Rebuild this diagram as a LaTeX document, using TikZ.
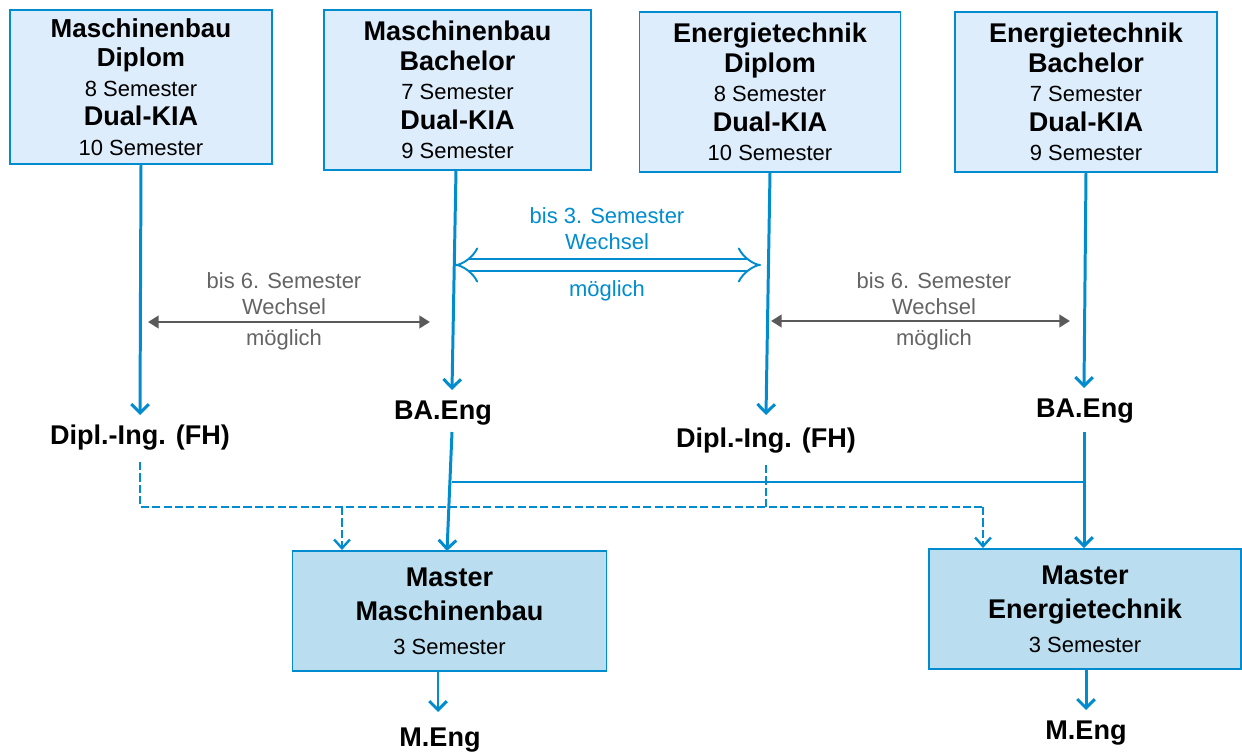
\documentclass[tikz,border=0pt]{standalone}
\usepackage{fontspec}
\setmainfont{Liberation Sans}
\usetikzlibrary{arrows.meta}
\usetikzlibrary{calc}

\definecolor{hsblau}{RGB}{0,140,206}
\definecolor{boxfill}{RGB}{222,237,251}
\definecolor{masterfill}{RGB}{186,222,240}
\definecolor{pfeilgrau}{RGB}{90,90,90}
\definecolor{textgrau}{RGB}{100,100,100}

\newcommand{\fett}[1]{{\fontsize{15.4}{16.8}\selectfont\bfseries #1}}
\newcommand{\fettklein}[1]{{\fontsize{14.8}{16.8}\selectfont\bfseries #1}}

\begin{document}
\begin{tikzpicture}[x=0.02cm,y=-0.02cm,
  studium/.style={draw=hsblau,line width=0.9pt,fill=boxfill,align=center,inner sep=0pt,
    font=\fontsize{12.5}{16.8}\selectfont},
  master/.style={draw=hsblau,line width=1.1pt,fill=masterfill,align=center,inner sep=0pt,
    minimum width=6.28cm,minimum height=2.4cm,font=\fontsize{12.5}{19.4}\selectfont},
  abschluss/.style={font=\fontsize{15.4}{18}\selectfont\bfseries,inner sep=0pt},
  hinweis/.style={align=center,font=\fontsize{12.5}{14.8}\selectfont,inner sep=0pt},
  fluss/.style={hsblau,line width=1.7pt,-{Straight Barb[length=5pt,width=10pt]}},
  strich/.style={hsblau,line width=1.35pt,dash pattern=on 4.6pt off 1.9pt},
  gestrichelt/.style={strich,-{Straight Barb[length=5pt,width=9pt,line width=1.35pt]}},
  wechsel/.style={pfeilgrau,line width=1.6pt,{Triangle[length=6pt,width=7pt]}-{Triangle[length=6pt,width=7pt]}}
]
\useasboundingbox (0,0) rectangle (1242,753);

% Studiengaenge oben
\node[studium,minimum width=5.24cm,minimum height=3.08cm] (mbdipl) at (141,87)
  {\fettklein{Maschinenbau}\\\fettklein{Diplom}\\8 Semester\\\fett{Dual-KIA}\\10 Semester};
\node[studium,minimum width=5.34cm,minimum height=3.2cm] (mbba) at (457.5,90)
  {\fett{Maschinenbau}\\\fett{Bachelor}\\7 Semester\\\fett{Dual-KIA}\\9 Semester};
\node[studium,minimum width=5.22cm,minimum height=3.2cm] (etdipl) at (770,92)
  {\fett{Energietechnik}\\\fett{Diplom}\\8 Semester\\\fett{Dual-KIA}\\10 Semester};
\node[studium,minimum width=5.24cm,minimum height=3.2cm] (etba) at (1086,92)
  {\fett{Energietechnik}\\\fett{Bachelor}\\7 Semester\\\fett{Dual-KIA}\\9 Semester};

% Abschluesse
\node[abschluss] (mbdiplab) at (140,438) {Dipl.-Ing. (FH)};
\node[abschluss] (mbbaab) at (443,413) {BA.Eng};
\node[abschluss] (etdiplab) at (766,441) {Dipl.-Ing. (FH)};
\node[abschluss] (etbaab) at (1085,411) {BA.Eng};

\coordinate (mbdiplend) at (140,415);
\coordinate (mbbastart) at (456,170);
\coordinate (mbbaend) at (452,390);
\coordinate (etdiplend) at (766,415);
\coordinate (etbaend) at (1084,388);

\draw[fluss] (mbdipl.south) -- (mbdiplend);
\draw[fluss] (mbbastart) -- (mbbaend);
\draw[fluss] (etdipl.south) -- (etdiplend);
\draw[fluss] (etba.south) -- (etbaend);

% Wechsel
\coordinate (wl1) at (148,322);
\coordinate (wr1) at (430,322);
\coordinate (wl2) at (771,321);
\coordinate (wr2) at (1070,321);
\coordinate (wl3) at (455,265);
\coordinate (wr3) at (761,265);
\draw[wechsel] (wl1) -- (wr1);
\draw[wechsel] (wl2) -- (wr2);
\draw[hsblau,line width=1.1pt,double=white,double distance=6pt,{Implies[scale=1.35]}-{Implies[scale=1.35]}] (wl3) -- (wr3);

\node[hinweis,text=textgrau] (wechsel1) at (284,294) {bis 6. Semester\\Wechsel};
\node[hinweis,text=textgrau] (moeglich1) at (284,340) {möglich};
\node[hinweis,text=textgrau] (wechsel2) at (934,294) {bis 6. Semester\\Wechsel};
\node[hinweis,text=textgrau] (moeglich2) at (934,340) {möglich};
\node[hinweis,text=hsblau] (wechsel3) at (607,229) {bis 3. Semester\\Wechsel};
\node[hinweis,text=hsblau] (moeglich3) at (607,291) {möglich};

% Master
\node[master] (mbmaster) at (449.5,611)
  {\fett{Master}\\\fett{Maschinenbau}\\3 Semester};
\node[master,minimum width=6.24cm] (etmaster) at (1085,609)
  {\fett{Master}\\\fett{Energietechnik}\\3 Semester};

\node[abschluss] (mbmeng) at (440,740) {M.Eng};
\node[abschluss] (etmeng) at (1086,733) {M.Eng};

% Wege zum Master
\coordinate (bastart1) at (452,432);
\coordinate (bastart2) at (1084,432);
\coordinate (knoten1) at (452,482);
\coordinate (knoten2) at (1084,482);
\coordinate (mbmasterein) at (447,551);
\draw[fluss] (bastart1) -- (mbmasterein);
\draw[fluss] (bastart2) -- (etmaster.north -| bastart2);
\draw[hsblau,line width=1.7pt] (knoten1) -- (knoten2);

\coordinate (diplstart1) at (140,462);
\coordinate (diplstart2) at (766,465);
\coordinate (diplecke1) at (140,507);
\coordinate (diplecke2) at (983,507);
\coordinate (diplabzw) at (342,507);
\draw[strich] (diplstart1) -- (diplecke1) -- (diplecke2);
\draw[strich] (diplstart2) -- (diplstart2 |- diplecke1);
\draw[gestrichelt] (diplecke2) -- (etmaster.north -| diplecke2);
\draw[gestrichelt] (diplabzw) -- (mbmaster.north -| diplabzw);

\coordinate (mbmengend) at (438,712);
\coordinate (etmengend) at (1086,710);
\draw[fluss] (mbmaster.south -| mbmengend) -- (mbmengend);
\draw[fluss] (etmaster.south -| etmengend) -- (etmengend);
\end{tikzpicture}
\end{document}
